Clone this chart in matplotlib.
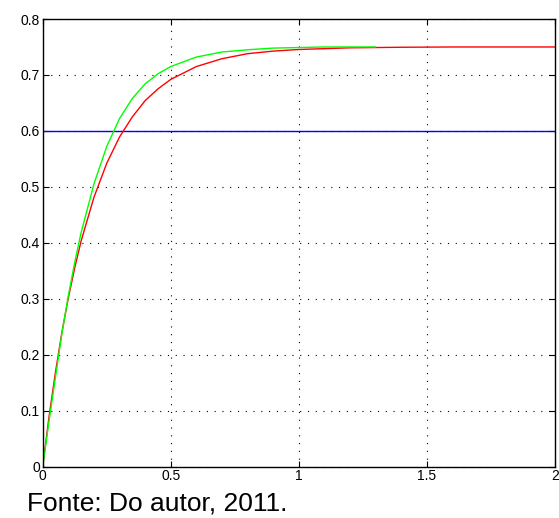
import matplotlib
matplotlib.use("Agg")
import matplotlib.pyplot as plt

# Step responses sampled along time (s)
t_red = [0, 0.025, 0.05, 0.075, 0.1, 0.125, 0.15, 0.2, 0.25, 0.3, 0.35, 0.4,
         0.45, 0.5, 0.6, 0.7, 0.8, 0.9, 1.0, 1.2, 1.4, 1.6, 2.0]
y_red = [0, 0.090, 0.169, 0.240, 0.301, 0.355, 0.403, 0.481, 0.542, 0.589,
         0.625, 0.654, 0.675, 0.692, 0.715, 0.729, 0.738, 0.7426, 0.7455,
         0.7485, 0.7495, 0.75, 0.75]

t_green = [0, 0.025, 0.05, 0.075, 0.1, 0.125, 0.15, 0.2, 0.25, 0.3, 0.35,
           0.4, 0.45, 0.5, 0.6, 0.7, 0.8, 0.9, 1.0, 1.1, 1.3]
y_green = [0, 0.082, 0.160, 0.238, 0.305, 0.365, 0.418, 0.505, 0.572, 0.622,
           0.658, 0.684, 0.702, 0.715, 0.732, 0.741, 0.745, 0.748, 0.749,
           0.75, 0.75]

# Reference level
t_ref = [0, 2]
y_ref = [0.6, 0.6]

x_ticks = [0, 0.5, 1, 1.5, 2]
x_labels = ["0", "0.5", "1", "1.5", "2"]
y_ticks = [0, 0.1, 0.2, 0.3, 0.4, 0.5, 0.6, 0.7, 0.8]
y_labels = ["0", "0.1", "0.2", "0.3", "0.4", "0.5", "0.6", "0.7", "0.8"]

plt.rcParams["font.family"] = ["Liberation Sans", "DejaVu Sans"]

fig = plt.figure(figsize=(5.59, 5.18), dpi=100)
ax = fig.add_axes([0.0764, 0.0994, 0.9159, 0.8639])

ax.plot(t_ref, y_ref, color="#0000ff", lw=1.0)
ax.plot(t_red, y_red, color="#ff0000", lw=1.0)
ax.plot(t_green, y_green, color="#00ff00", lw=1.0)

ax.set_xlim(0, 2)
ax.set_ylim(0, 0.8)
ax.set_xticks(x_ticks)
ax.set_xticklabels(x_labels)
ax.set_yticks(y_ticks)
ax.set_yticklabels(y_labels)

ax.grid(True, color="black", linestyle=(0, (1, 6)), linewidth=0.8)
ax.tick_params(direction="in", top=True, right=True, length=4, width=0.8,
               labelsize=10, pad=2, colors="black")
for s in ax.spines.values():
    s.set_linewidth(1.0)
    s.set_color("black")

fig.text(27 / 559, 1 - 510 / 518, "Fonte: Do autor, 2011.", fontsize=19,
         ha="left", va="baseline", color="black")

fig.savefig("out.png", dpi=100)
